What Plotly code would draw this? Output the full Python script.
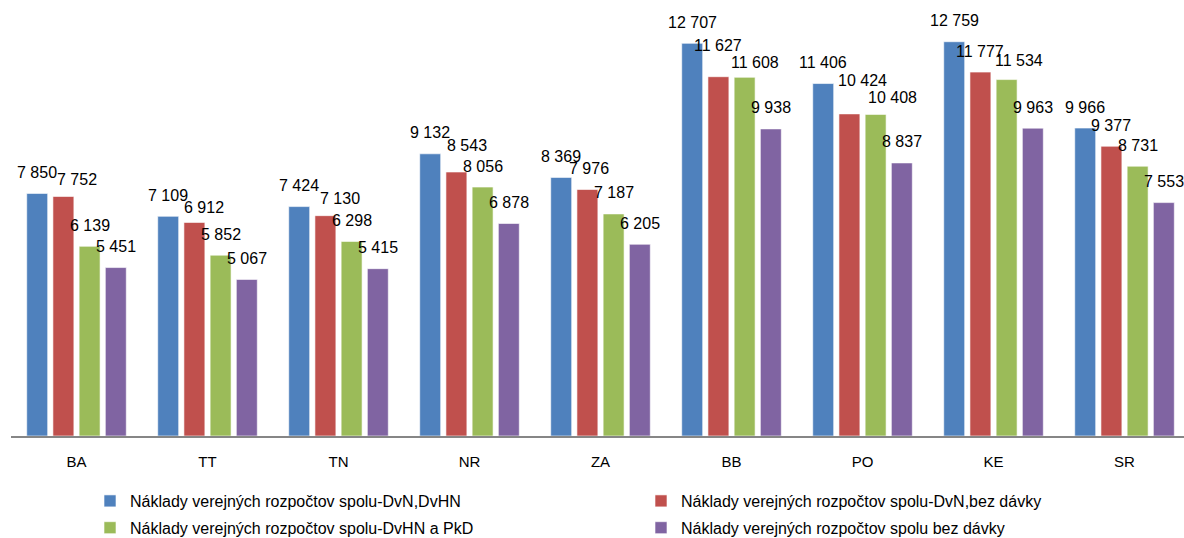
import plotly.graph_objects as go

categories = ["BA", "TT", "TN", "NR", "ZA", "BB", "PO", "KE", "SR"]

series_names = [
    "Náklady verejných rozpočtov spolu-DvN,DvHN",
    "Náklady verejných rozpočtov spolu-DvN,bez dávky",
    "Náklady verejných rozpočtov spolu-DvHN a PkD",
    "Náklady verejných rozpočtov spolu bez dávky",
]

dvn_dvhn = [7850, 7109, 7424, 9132, 8369, 12707, 11406, 12759, 9966]
dvn_bez_davky = [7752, 6912, 7130, 8543, 7976, 11627, 10424, 11777, 9377]
dvhn_pkd = [6139, 5852, 6298, 8056, 7187, 11608, 10408, 11534, 8731]
bez_davky = [5451, 5067, 5415, 6878, 6205, 9938, 8837, 9963, 7553]

series_values = [dvn_dvhn, dvn_bez_davky, dvhn_pkd, bez_davky]
colors = ["#4F81BD", "#C0504D", "#9BBB59", "#8064A2"]
legend_ids = ["legend", "legend2", "legend", "legend2"]

# label nudges (pixels) where the original chart moved labels to avoid overlap
label_nudge = {
    (0, 1): (14, -4),
    (1, 1): (10, -6),
    (2, 1): (15, -4),
    (3, 1): (11, 6),
    (4, 1): (2, 0),
    (5, 1): (0, 10),
    (5, 2): (10, -6),
    (6, 1): (13, 12),
    (6, 2): (17, -4),
    (7, 2): (12, -2),
}

def fmt(v):
    return f"{v:,}".replace(",", " ")

FONT = "Liberation Sans"
bargap = 0.2
slot = (1 - bargap) / 4

fig = go.Figure()
for k, (name, vals, col, lg) in enumerate(zip(series_names, series_values, colors, legend_ids)):
    fig.add_trace(go.Bar(
        name=name,
        x=list(range(len(categories))),
        y=vals,
        legend=lg,
        legendgroup=f"g{k}",
        marker=dict(color=col, line=dict(color="rgba(255,255,255,0.6)", width=1)),
    ))

annotations = []
for k, vals in enumerate(series_values):
    for i, v in enumerate(vals):
        dx, dy = label_nudge.get((i, k), (0, 0))
        annotations.append(dict(
            x=i + (k - 1.5) * slot, y=v, xref="x", yref="y",
            text=fmt(v), showarrow=False,
            xshift=dx, yshift=21 + dy,
            yanchor="middle", xanchor="center",
            font=dict(family=FONT, size=16, color="#000000"),
        ))

legend_common = dict(
    orientation="v",
    xref="container", yref="container",
    yanchor="top", xanchor="left",
    font=dict(family=FONT, size=16, color="#000000"),
    tracegroupgap=3,
    bgcolor="rgba(0,0,0,0)",
)

fig.update_layout(
    width=1184, height=538,
    margin=dict(l=11, r=0, t=4, b=102, autoexpand=False),
    paper_bgcolor="white", plot_bgcolor="white",
    barmode="group", bargap=bargap, bargroupgap=0.2,
    font=dict(family=FONT, size=16, color="#000000"),
    showlegend=True,
    legend=dict(x=90 / 1184, y=(538 - 484) / 538, **legend_common),
    legend2=dict(x=641 / 1184, y=(538 - 484) / 538, **legend_common),
    annotations=annotations,
)

fig.update_xaxes(
    tickmode="array",
    tickvals=list(range(len(categories))),
    ticktext=categories,
    range=[-0.5, 8.454],
    showline=True, linecolor="#868686", linewidth=2,
    showgrid=False, zeroline=False, ticks="",
    ticklabelstandoff=11,
    tickfont=dict(family=FONT, size=15, color="#000000"),
)
fig.update_yaxes(
    range=[0, 13980],
    visible=False, showgrid=False, zeroline=False,
)

fig.write_html(
    "out.html",
    config={"displayModeBar": False},
    post_script="document.body.style.margin='0';document.body.style.overflow='hidden';",
)
